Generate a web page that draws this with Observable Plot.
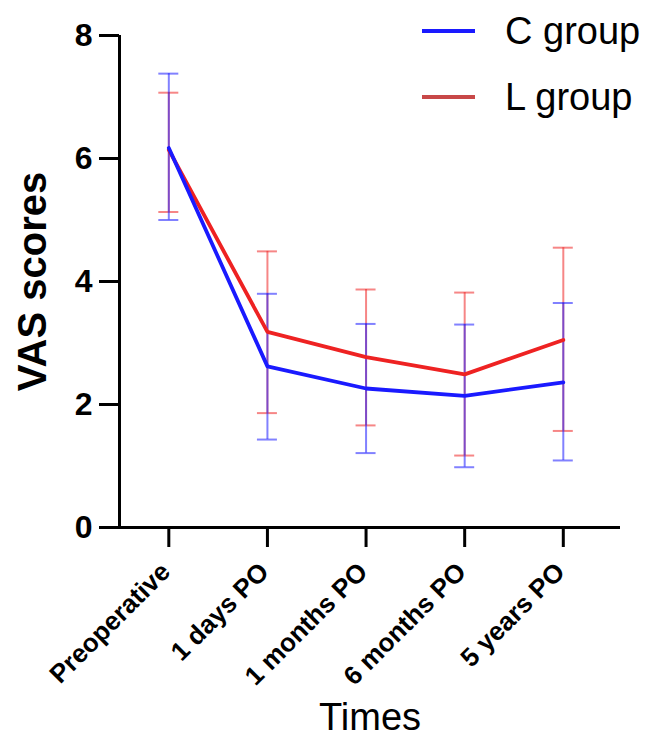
<!DOCTYPE html>
<html>
<head>
<meta charset="utf-8">
<script src="https://cdn.jsdelivr.net/npm/d3@7"></script>
<script src="https://cdn.jsdelivr.net/npm/@observablehq/plot@0.6"></script>
<style>
  html, body { margin: 0; padding: 0; background: #fff; }
  #wrap { position: relative; width: 648px; height: 747px; font-family: "Liberation Sans", Arial, sans-serif; }
  #legend { position: absolute; left: 0; top: 0; width: 648px; pointer-events: none; }
  .row { position: absolute; left: 422px; display: flex; align-items: center; height: 44px; }
  .sw { width: 53px; height: 4px; margin-right: 30px; }
  .lab { font-size: 38px; color: #000; white-space: nowrap; }
</style>
</head>
<body>
<div id="wrap"></div>
<script>
const categories = ["Preoperative", "1 days PO", "1 months PO", "6 months PO", "5 years PO"];
const groups = ["C group", "L group"];
const cMean = [6.17, 2.62, 2.26, 2.14, 2.36];
const cHigh = [7.38, 3.80, 3.31, 3.30, 3.65];
const cLow  = [5.00, 1.43, 1.21, 0.98, 1.09];
const lMean = [6.14, 3.18, 2.77, 2.49, 3.05];
const lHigh = [7.07, 4.49, 3.87, 3.82, 4.55];
const lLow  = [5.13, 1.86, 1.66, 1.17, 1.57];
const yTicks = [0, 2, 4, 6, 8];

const colors = {"C group": "#1a1aff", "L group": "#ee2222"};

const rowsC = categories.map((t, i) => ({i, t, g: "C group", mean: cMean[i], lo: cLow[i], hi: cHigh[i]}));
const rowsL = categories.map((t, i) => ({i, t, g: "L group", mean: lMean[i], lo: lLow[i], hi: lHigh[i]}));
const xIdx = categories.map((t, i) => i);

const font = "'Liberation Sans', Arial, sans-serif";

function errBars(rows, color) {
  return [
    Plot.ruleX(rows, {x: "i", y1: "lo", y2: "hi", stroke: color, strokeWidth: 2, strokeOpacity: 0.55}),
    Plot.ruleY(rows, {x1: "i", x2: "i", y: "hi", stroke: color, strokeWidth: 2, strokeOpacity: 0.55, insetLeft: -10, insetRight: -10}),
    Plot.ruleY(rows, {x1: "i", x2: "i", y: "lo", stroke: color, strokeWidth: 2, strokeOpacity: 0.55, insetLeft: -10, insetRight: -10})
  ];
}

const chart = Plot.plot({
  width: 648,
  height: 747,
  marginLeft: 119,
  marginRight: 28,
  marginTop: 35,
  marginBottom: 220,
  style: {fontFamily: font, background: "#fff", color: "#000"},
  x: {type: "linear", domain: [-0.5, 4.58], axis: null},
  y: {domain: [0, 8], axis: null},
  marks: [
    ...errBars(rowsL, colors["L group"]),
    ...errBars(rowsC, colors["C group"]),
    Plot.line(rowsL, {x: "i", y: "mean", stroke: colors["L group"], strokeWidth: 3.8}),
    Plot.line(rowsC, {x: "i", y: "mean", stroke: colors["C group"], strokeWidth: 3.8}),
    // y ticks + labels
    Plot.ruleY(yTicks, {x1: -0.5, x2: -0.5, y: d => d, stroke: "#000", strokeWidth: 3, insetLeft: -20}),
    Plot.text(yTicks, {x: -0.5, y: d => d, text: d => String(d), dx: -27, textAnchor: "end", fontSize: 32, fontWeight: "bold", fill: "#000"}),
    // x ticks + labels
    Plot.ruleX(xIdx, {x: d => d, y1: 0, y2: 0, stroke: "#000", strokeWidth: 3, insetBottom: -20}),
    Plot.text(xIdx, {x: d => d, y: 0, text: d => categories[d], rotate: -45, textAnchor: "end", lineAnchor: "middle", dx: -3, dy: 40, fontSize: 26, fontWeight: "bold", fill: "#000"}),
    // axis lines
    Plot.ruleY([0], {stroke: "#000", strokeWidth: 3}),
    Plot.ruleX([-0.5], {y1: 0, y2: 8, stroke: "#000", strokeWidth: 3}),
    // axis titles
    Plot.text(["VAS scores"], {frameAnchor: "left", textAnchor: "middle", lineAnchor: "middle", rotate: -90, dx: -86, fontSize: 40, fontWeight: "bold", fill: "#000"}),
    Plot.text(["Times"], {frameAnchor: "bottom", textAnchor: "middle", lineAnchor: "middle", dy: 190, fontSize: 38, fill: "#000"})
  ]
});

const wrap = document.getElementById("wrap");
wrap.appendChild(chart);

const legend = document.createElement("div");
legend.id = "legend";
groups.forEach((g, k) => {
  const row = document.createElement("div");
  row.className = "row";
  row.style.top = (k === 0 ? 9 : 75) + "px";
  const sw = document.createElement("div");
  sw.className = "sw";
  sw.style.background = k === 0 ? colors[g] : "#c84848";
  const lab = document.createElement("span");
  lab.className = "lab";
  lab.textContent = g;
  row.appendChild(sw);
  row.appendChild(lab);
  legend.appendChild(row);
});
wrap.appendChild(legend);
</script>
</body>
</html>
